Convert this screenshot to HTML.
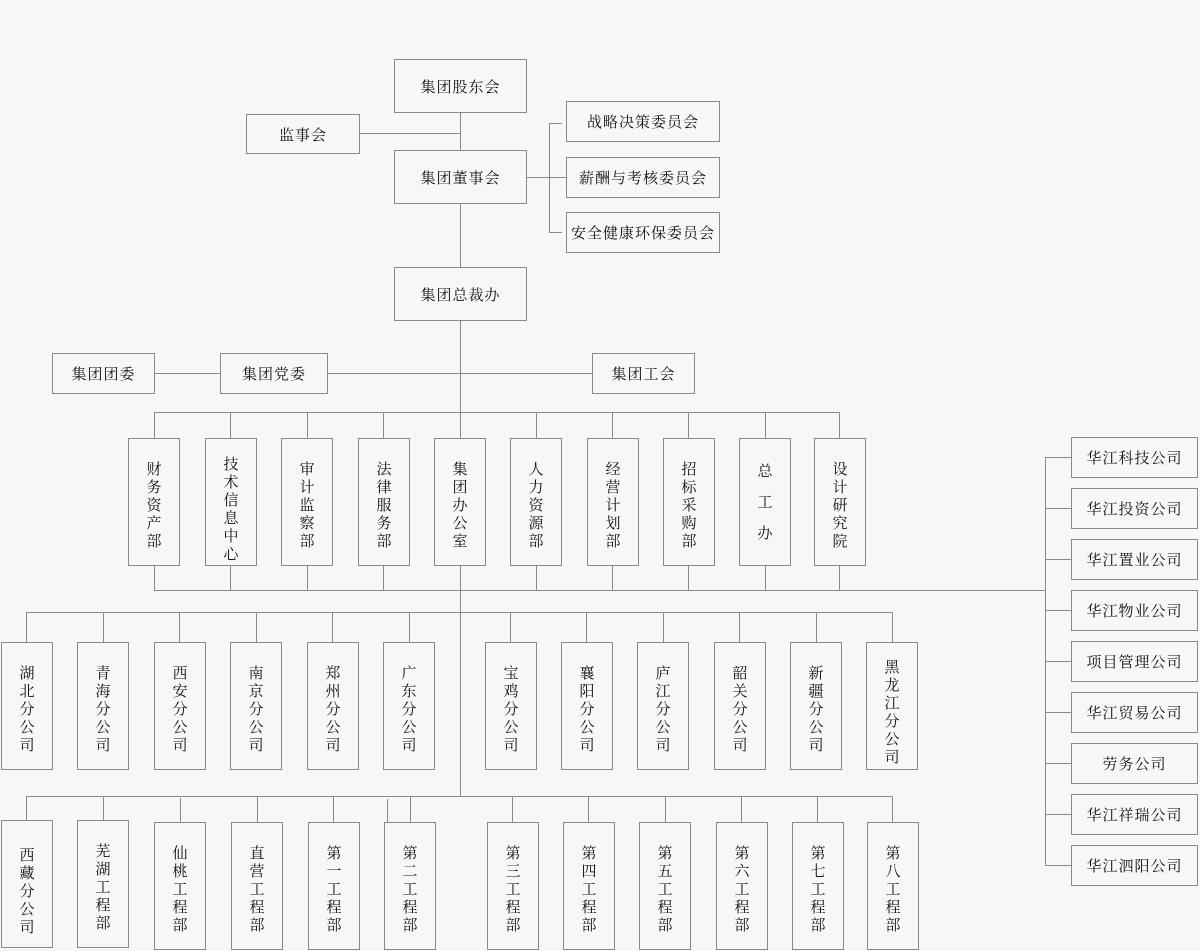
<!DOCTYPE html>
<html><head><meta charset="utf-8"><style>
body{margin:0;width:1200px;height:951px;background:#f7f7f7;position:relative;overflow:hidden;font-family:"Liberation Serif","Noto Serif CJK SC",serif;color:#111}
.b{position:absolute;border:1px solid #8a8a8a;box-sizing:border-box;background:#f7f7f7;display:flex;align-items:center;justify-content:center;font-size:15px;letter-spacing:1px}
.v{position:absolute;border:1px solid #8a8a8a;box-sizing:border-box;background:#f7f7f7;font-size:15px;line-height:18px;text-align:center;padding-top:22px}
svg{position:absolute;left:0;top:0}
</style></head><body>
<svg width="1200" height="951"><g stroke="#8a8a8a" stroke-width="1" fill="none">
<path d="M460.5 112V796"/>
<path d="M359 133.5H460"/>
<path d="M526 177.5H566M549.5 123V232M549 123.5H562M549 232.5H562"/>
<path d="M154 373.5H592"/>
<path d="M154.5 412.5H839.5"/>
<path d="M154.5 412V438M230.5 412V438M307.5 412V438M383.5 412V438M536.5 412V438M612.5 412V438M688.5 412V438M765.5 412V438M839.5 412V438"/>
<path d="M154.5 565V590.5H1045.5M230.5 565V590M307.5 565V590M383.5 565V590M460.5 565V590M536.5 565V590M612.5 565V590M688.5 565V590M765.5 565V590M839.5 565V590"/>
<path d="M1045.5 457V865.5M1045 457.5H1071M1045 508.5H1071M1045 559.5H1071M1045 610.5H1071M1045 661.5H1071M1045 712.5H1071M1045 763.5H1071M1045 814.5H1071M1045 865.5H1071"/>
<path d="M26.5 612.5H892.5"/>
<path d="M26.5 612V642M103.5 612V642M179.5 612V642M256.5 612V642M332.5 612V642M409.5 612V642M510.5 612V642M586.5 612V642M663.5 612V642M739.5 612V642M816.5 612V642M892.5 612V642"/>
<path d="M26.5 796.5H892.5"/>
<path d="M26.5 796V820M103.5 796V820M180.5 798V822M257.5 797V822M333.5 797V822M410.5 797V822M387.5 799V823M512.5 797V822M588.5 797V822M665.5 797V822M741.5 797V822M817.5 797V822M892.5 797V822"/>
</g></svg>
<div class="b" style="left:394px;top:59px;width:133px;height:54px">集团股东会</div>
<div class="b" style="left:246px;top:114px;width:114px;height:40px">监事会</div>
<div class="b" style="left:394px;top:150px;width:133px;height:54px">集团董事会</div>
<div class="b" style="left:566px;top:101px;width:154px;height:41px">战略决策委员会</div>
<div class="b" style="left:566px;top:157px;width:154px;height:41px">薪酬与考核委员会</div>
<div class="b" style="left:566px;top:212px;width:154px;height:41px">安全健康环保委员会</div>
<div class="b" style="left:394px;top:267px;width:133px;height:54px">集团总裁办</div>
<div class="b" style="left:52px;top:353px;width:103px;height:41px">集团团委</div>
<div class="b" style="left:220px;top:353px;width:108px;height:41px">集团党委</div>
<div class="b" style="left:592px;top:353px;width:103px;height:41px">集团工会</div>

<div class="v" style="left:128px;top:438px;width:52px;height:128px">财<br>务<br>资<br>产<br>部</div>
<div class="v" style="left:205px;top:438px;width:52px;height:128px;padding-top:17px">技<br>术<br>信<br>息<br>中<br>心</div>
<div class="v" style="left:281px;top:438px;width:52px;height:128px">审<br>计<br>监<br>察<br>部</div>
<div class="v" style="left:358px;top:438px;width:52px;height:128px">法<br>律<br>服<br>务<br>部</div>
<div class="v" style="left:434px;top:438px;width:52px;height:128px">集<br>团<br>办<br>公<br>室</div>
<div class="v" style="left:510px;top:438px;width:52px;height:128px">人<br>力<br>资<br>源<br>部</div>
<div class="v" style="left:587px;top:438px;width:52px;height:128px">经<br>营<br>计<br>划<br>部</div>
<div class="v" style="left:663px;top:438px;width:52px;height:128px">招<br>标<br>采<br>购<br>部</div>
<div class="v" style="left:739px;top:438px;width:52px;height:128px;line-height:31px;padding-top:18px">总<br>工<br>办</div>
<div class="v" style="left:814px;top:438px;width:52px;height:128px">设<br>计<br>研<br>究<br>院</div>

<div class="b" style="left:1071px;top:437px;width:127px;height:41px">华江科技公司</div>
<div class="b" style="left:1071px;top:488px;width:127px;height:41px">华江投资公司</div>
<div class="b" style="left:1071px;top:539px;width:127px;height:41px">华江置业公司</div>
<div class="b" style="left:1071px;top:590px;width:127px;height:41px">华江物业公司</div>
<div class="b" style="left:1071px;top:641px;width:127px;height:41px">项目管理公司</div>
<div class="b" style="left:1071px;top:692px;width:127px;height:41px">华江贸易公司</div>
<div class="b" style="left:1071px;top:743px;width:127px;height:41px">劳务公司</div>
<div class="b" style="left:1071px;top:794px;width:127px;height:41px">华江祥瑞公司</div>
<div class="b" style="left:1071px;top:845px;width:127px;height:41px">华江泗阳公司</div>

<div class="v" style="left:1px;top:642px;width:52px;height:128px">湖<br>北<br>分<br>公<br>司</div>
<div class="v" style="left:77px;top:642px;width:52px;height:128px">青<br>海<br>分<br>公<br>司</div>
<div class="v" style="left:154px;top:642px;width:52px;height:128px">西<br>安<br>分<br>公<br>司</div>
<div class="v" style="left:230px;top:642px;width:52px;height:128px">南<br>京<br>分<br>公<br>司</div>
<div class="v" style="left:307px;top:642px;width:52px;height:128px">郑<br>州<br>分<br>公<br>司</div>
<div class="v" style="left:383px;top:642px;width:52px;height:128px">广<br>东<br>分<br>公<br>司</div>
<div class="v" style="left:485px;top:642px;width:52px;height:128px">宝<br>鸡<br>分<br>公<br>司</div>
<div class="v" style="left:561px;top:642px;width:52px;height:128px">襄<br>阳<br>分<br>公<br>司</div>
<div class="v" style="left:637px;top:642px;width:52px;height:128px">庐<br>江<br>分<br>公<br>司</div>
<div class="v" style="left:714px;top:642px;width:52px;height:128px">韶<br>关<br>分<br>公<br>司</div>
<div class="v" style="left:790px;top:642px;width:52px;height:128px">新<br>疆<br>分<br>公<br>司</div>
<div class="v" style="left:866px;top:642px;width:52px;height:128px;padding-top:16px">黑<br>龙<br>江<br>分<br>公<br>司</div>

<div class="v" style="left:1px;top:820px;width:52px;height:128px;padding-top:26px">西<br>藏<br>分<br>公<br>司</div>
<div class="v" style="left:77px;top:820px;width:52px;height:128px">芜<br>湖<br>工<br>程<br>部</div>
<div class="v" style="left:154px;top:822px;width:52px;height:128px">仙<br>桃<br>工<br>程<br>部</div>
<div class="v" style="left:231px;top:822px;width:52px;height:128px">直<br>营<br>工<br>程<br>部</div>
<div class="v" style="left:308px;top:822px;width:52px;height:128px">第<br>一<br>工<br>程<br>部</div>
<div class="v" style="left:384px;top:822px;width:52px;height:128px">第<br>二<br>工<br>程<br>部</div>
<div class="v" style="left:487px;top:822px;width:52px;height:128px">第<br>三<br>工<br>程<br>部</div>
<div class="v" style="left:563px;top:822px;width:52px;height:128px">第<br>四<br>工<br>程<br>部</div>
<div class="v" style="left:639px;top:822px;width:52px;height:128px">第<br>五<br>工<br>程<br>部</div>
<div class="v" style="left:716px;top:822px;width:52px;height:128px">第<br>六<br>工<br>程<br>部</div>
<div class="v" style="left:792px;top:822px;width:52px;height:128px">第<br>七<br>工<br>程<br>部</div>
<div class="v" style="left:867px;top:822px;width:52px;height:128px">第<br>八<br>工<br>程<br>部</div>
</body></html>
